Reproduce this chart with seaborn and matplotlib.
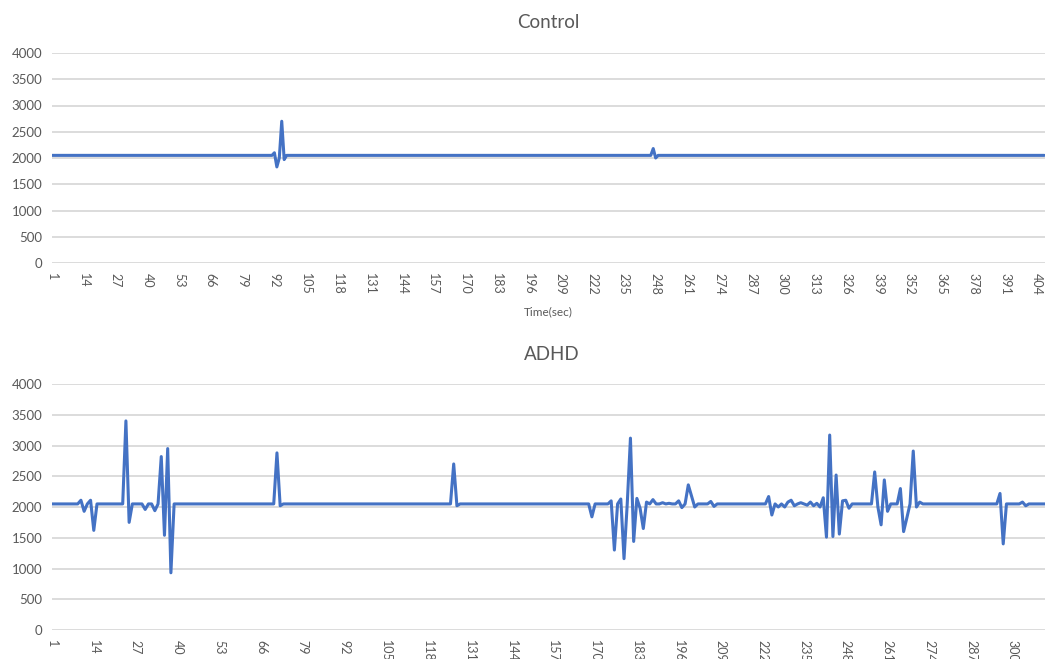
import numpy as np
import pandas as pd
import matplotlib
matplotlib.use("Agg")
import matplotlib.pyplot as plt
import seaborn as sns

# ---------------- data ----------------
baseline = 2050

control_n = 407
control_idx = [92, 93, 94, 95, 96, 247, 248]
control_val = [2100, 1830, 2000, 2700, 1970, 2180, 2000]

adhd_n = 310
adhd_idx = [10, 11, 13, 14, 24, 25, 30, 33,
            35, 36, 37, 38, 71, 72,
            126, 127,
            169, 175, 176, 178, 179, 181, 182, 183, 184, 185, 186, 188,
            191, 193, 196, 197, 199, 200, 201, 206, 207,
            224, 225, 226, 227, 229, 230, 231, 232, 234, 236, 237, 238, 239, 240,
            241, 242, 243, 244, 245, 246, 247, 248, 249,
            257, 258, 259, 260, 261, 265, 266, 267, 269, 270, 271,
            296, 297, 303, 304]
adhd_val = [2110, 1930, 2110, 1620, 3400, 1750, 1960, 1940,
            2820, 1540, 2950, 930, 2880, 2020,
            2700, 2020,
            1840, 2100, 1300, 2130, 1160, 3120, 1440, 2140, 1980, 1650, 2080, 2120,
            2070, 2060, 2100, 1990, 2360, 2180, 2000, 2090, 2010,
            2170, 1870, 2050, 2000, 2000, 2080, 2110, 2020, 2070, 2030, 2080, 2020, 2060, 2000,
            2150, 1510, 3170, 1520, 2520, 1560, 2100, 2110, 1980,
            2570, 2000, 1710, 2440, 1930, 2300, 1600, 1820, 2910, 2000, 2080,
            2220, 1400, 2080, 2020]

x_ticks_control = list(range(1, 405, 13))
x_ticks_adhd = list(range(1, 301, 13))
y_ticks = [0, 500, 1000, 1500, 2000, 2500, 3000, 3500, 4000]


def build(n, idx, val):
    t = np.arange(1, n + 1)
    v = np.full(n, float(baseline))
    for i, y in zip(idx, val):
        v[i - 1] = y
    return pd.DataFrame({"Time": t, "Value": v})


control_df = build(control_n, control_idx, control_val)
adhd_df = build(adhd_n, adhd_idx, adhd_val)

# ---------------- style ----------------
sns.set_style("white")
plt.rcParams["font.family"] = ["Lato", "DejaVu Sans"]

W, H = 1045, 659
fig = plt.figure(figsize=(W / 100, H / 100), dpi=100)

line_color = "#4472C4"
text_color = "#595959"
grid_color = "#d9d9d9"

left = 52 / W
width = (W - 52) / W
ax1 = fig.add_axes([left, 1 - 263 / H, width, (263 - 53) / H])
ax2 = fig.add_axes([left, 1 - 630 / H, width, (630 - 384) / H])

for ax, df, ticks, xmax in [(ax1, control_df, x_ticks_control, 407.3),
                            (ax2, adhd_df, x_ticks_adhd, 310.0)]:
    sns.lineplot(data=df, x="Time", y="Value", ax=ax, color=line_color,
                 linewidth=2.2, zorder=3)
    ax.set_xlim(1, xmax)
    ax.set_ylim(0, 4000)
    ax.set_yticks(y_ticks)
    ax.set_yticklabels([str(v) for v in y_ticks], fontsize=9.5, color=text_color)
    ax.set_xticks(ticks)
    ax.set_xticklabels([str(t) for t in ticks], rotation=270, fontsize=9,
                       color=text_color, va="top", ha="center")
    ax.tick_params(axis="both", length=0)
    ax.tick_params(axis="y", pad=7)
    ax.tick_params(axis="x", pad=7)
    ax.yaxis.grid(True, color=grid_color, linewidth=1.3, zorder=0)
    ax.xaxis.grid(False)
    for s in ax.spines.values():
        s.set_visible(False)
    ax.set_xlabel("")
    ax.set_ylabel("")
    ax.set_facecolor("white")

fig.text(548 / W, 1 - 22.5 / H, "Control", ha="center", va="center",
         fontsize=13.5, color=text_color)
fig.text(552 / W, 1 - 354.5 / H, "ADHD", ha="center", va="center",
         fontsize=13.5, color=text_color)
fig.text(548 / W, 1 - 312 / H, "Time(sec)", ha="center", va="center",
         fontsize=8.5, color=text_color)

fig.savefig("out.png", dpi=100, facecolor="white")
